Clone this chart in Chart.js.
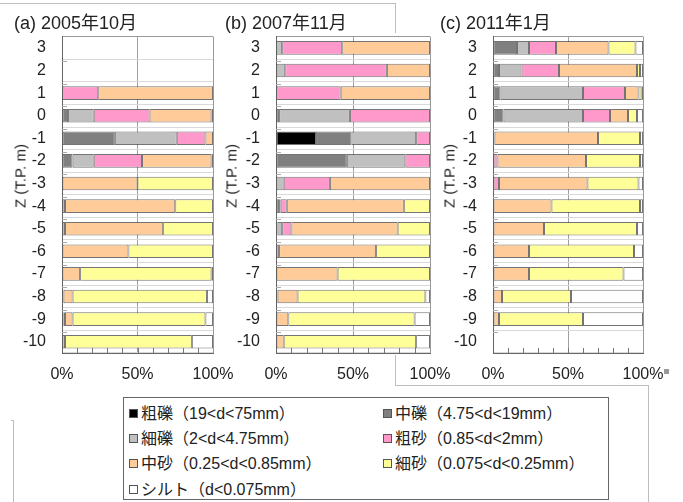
<!DOCTYPE html>
<html>
<head>
<meta charset="utf-8">
<script src="https://cdn.jsdelivr.net/npm/chart.js@4.4.1/dist/chart.umd.min.js"></script>
<style>
    body { margin: 0; background: #fff; font-family: 'Liberation Sans', 'Noto Sans CJK JP', sans-serif; }
    .wrap { position: relative; width: 683px; height: 502px; overflow: hidden; }
    .panel { position: absolute; top: 0; height: 392px; }
    .line { position: absolute; background: #bdbdbd; }
    .ztitle { position: absolute; font-size: 15px; color: #222; white-space: nowrap; transform: translate(-50%, -50%) rotate(-90deg); }
    .legend { position: absolute; left: 123px; top: 397px; width: 486px; height: 103px; border: 1px solid #666; box-sizing: border-box; }
    .item { position: absolute; font-size: 16px; color: #222; white-space: nowrap; transform: translateY(-50%); font-family: 'Liberation Sans', 'Noto Sans CJK JP', sans-serif; }
    .item span.box { display: inline-block; width: 7px; height: 7px; border: 1px solid #555; margin-right: 3px; vertical-align: 1px; }
</style>
</head>
<body>
<div class="wrap">
    <div class="line" style="left:0;top:3px;width:395px;height:1px"></div>
    <div class="line" style="left:395px;top:3px;width:1px;height:30px"></div>
    <div class="line" style="left:395px;top:355px;width:1px;height:30px"></div>
    <div class="line" style="left:395px;top:385px;width:253px;height:1px"></div>
    <div class="line" style="left:648px;top:385px;width:1px;height:117px"></div>
    <div class="line" style="left:13px;top:420px;width:1px;height:82px"></div>
    <div class="line" style="left:11px;top:420px;width:3px;height:1px"></div>
    <div class="line" style="left:664px;top:369px;width:5px;height:5px;background:#999"></div>

    <div class="panel" style="left:14px;width:233px"><canvas id="chartA"></canvas></div>
    <div class="panel" style="left:225px;width:239px"><canvas id="chartB"></canvas></div>
    <div class="panel" style="left:440px;width:237px"><canvas id="chartC"></canvas></div>

    <div class="ztitle" style="left:20px;top:176px">Z (T.P. m)</div>
    <div class="ztitle" style="left:231px;top:176px">Z (T.P. m)</div>
    <div class="ztitle" style="left:449px;top:176px">Z (T.P. m)</div>

    <div class="legend" id="legend"></div>
</div>

<script>
// depth rows (T.P. m)
const depths = ['3', '2', '1', '0', '-1', '-2', '-3', '-4', '-5', '-6', '-7', '-8', '-9', '-10'];

const classNames = [
    '粗礫（19<d<75mm）',
    '中礫（4.75<d<19mm）',
    '細礫（2<d<4.75mm）',
    '粗砂（0.85<d<2mm）',
    '中砂（0.25<d<0.85mm）',
    '細砂（0.075<d<0.25mm）',
    'シルト（d<0.075mm）'
];
const classColors = ['#000000', '#808080', '#c0c0c0', '#ff99cc', '#ffcc99', '#ffff99', '#ffffff'];

// (a) 2005年10月
const aGravelCoarse = [0, 0, 0, 0, 0, 0, 0, 0, 0, 0, 0, 0, 0, 0];
const aGravelMedium = [0, 0, 0, 4, 35, 7, 0, 0, 0, 0, 0, 0, 1, 0];
const aGravelFine   = [0, 0, 0, 17, 41, 14, 0, 0, 0, 0, 0, 0, 0, 0];
const aSandCoarse   = [0, 0, 24, 37, 19, 32, 0, 2, 2, 0, 0, 1, 1, 0];
const aSandMedium   = [0, 0, 76, 41, 5, 46, 50, 73, 65, 44, 12, 6, 5, 2];
const aSandFine     = [0, 0, 0, 0, 0, 1, 50, 25, 33, 56, 87, 89, 88, 84];
const aSilt         = [0, 0, 0, 1, 0, 0, 0, 0, 0, 0, 1, 4, 5, 14];

// (b) 2007年11月
const bGravelCoarse = [0, 0, 0, 0, 26, 0, 0, 0, 0, 0, 0, 0, 0, 0];
const bGravelMedium = [0, 0, 0, 2, 23, 46, 0, 2, 1, 0, 0, 0, 0, 0];
const bGravelFine   = [4, 6, 0, 46, 42, 38, 5, 1, 3, 0, 0, 0, 0, 0];
const bSandCoarse   = [39, 66, 42, 52, 9, 16, 30, 4, 6, 2, 0, 1, 0, 0];
const bSandMedium   = [57, 28, 58, 0, 0, 0, 65, 76, 69, 63, 40, 13, 8, 5];
const bSandFine     = [0, 0, 0, 0, 0, 0, 0, 17, 21, 35, 60, 83, 82, 86];
const bSilt         = [0, 0, 0, 0, 0, 0, 0, 0, 0, 0, 0, 3, 10, 9];

// (c) 2011年1月
const cGravelCoarse = [0, 0, 0, 0, 0, 0, 0, 0, 0, 0, 0, 0, 0, 0];
const cGravelMedium = [16, 4, 5, 7, 0, 0, 0, 0, 0, 0, 0, 0, 0, 0];
const cGravelFine   = [8, 15, 55, 53, 0, 0, 0, 0, 0, 0, 0, 0, 0, 0];
const cSandCoarse   = [18, 25, 28, 18, 1, 3, 4, 0, 0, 0, 0, 0, 0, 0];
const cSandMedium   = [35, 52, 9, 12, 69, 59, 59, 39, 34, 24, 24, 6, 4, 0];
const cSandFine     = [18, 2, 2, 6, 28, 36, 34, 59, 62, 70, 63, 46, 56, 0];
const cSilt         = [5, 2, 1, 4, 2, 2, 3, 2, 4, 6, 13, 48, 40, 0];

const xTickLabels = ['0%', '50%', '100%'];

const fontFamily = "'Liberation Sans', 'Noto Sans CJK JP', sans-serif";

// small tick marks drawn inside the plot, like the original
const innerTicks = {
    id: 'innerTicks',
    afterDatasetsDraw(chart) {
        const ctx = chart.ctx;
        const area = chart.chartArea;
        const x = chart.scales.x;
        const y = chart.scales.y;
        ctx.save();
        ctx.strokeStyle = '#777';
        ctx.lineWidth = 1;
        for (let v = 10; v < 100; v += 10) {
            const px = Math.round(x.getPixelForValue(v)) + 0.5;
            ctx.beginPath();
            ctx.moveTo(px, area.bottom);
            ctx.lineTo(px, area.bottom - 5);
            ctx.stroke();
        }
        ctx.strokeStyle = '#aaa';
        for (let i = 0; i < depths.length - 1; i++) {
            const py = Math.round((y.getPixelForValue(i) + y.getPixelForValue(i + 1)) / 2) + 2.5;
            ctx.beginPath();
            ctx.moveTo(area.left, py);
            ctx.lineTo(area.left + 5, py);
            ctx.stroke();
        }
        ctx.restore();
    }
};

function makeChart(id, title, yWidth, series) {
    const ctx = document.getElementById(id).getContext('2d');
    return new Chart(ctx, {
        type: 'bar',
        data: {
            labels: depths,
            datasets: series.map(function(values, i) {
                return {
                    label: classNames[i],
                    data: values,
                    backgroundColor: classColors[i],
                    borderColor: 'rgba(70, 70, 70, 0.75)',
                    borderWidth: 1,
                    borderSkipped: false,
                    categoryPercentage: 1,
                    barPercentage: 0.6
                };
            })
        },
        options: {
            indexAxis: 'y',
            responsive: true,
            maintainAspectRatio: false,
            animation: false,
            // right padding covers the half "100%" label plus tick padding
            layout: { padding: { left: 0, right: 34, top: 0, bottom: 0 } },
            plugins: {
                legend: { display: false },
                tooltip: { enabled: false },
                title: {
                    display: true,
                    text: title,
                    align: 'start',
                    color: '#222',
                    font: { family: fontFamily, size: 18, weight: 'normal' },
                    padding: { top: 13, bottom: 2 }
                }
            },
            scales: {
                x: {
                    stacked: true,
                    min: 0,
                    max: 100,
                    afterFit: function(s) { s.height = 39; },
                    border: { display: true, color: '#666' },
                    grid: {
                        drawTicks: false,
                        color: function(c) {
                            if (c.tick.value === 50) return '#a0a0a0';
                            if (c.tick.value === 100) return '#999';
                            return 'rgba(0,0,0,0)';
                        }
                    },
                    ticks: {
                        stepSize: 50,
                        padding: 12,
                        color: '#222',
                        font: { family: fontFamily, size: 16 },
                        maxRotation: 0,
                        callback: function(v, i) { return xTickLabels[i]; }
                    }
                },
                y: {
                    stacked: true,
                    afterFit: function(s) { s.width = yWidth; },
                    border: { display: true, color: '#666' },
                    grid: {
                        offset: true,
                        drawTicks: false,
                        color: function(c) {
                            return c.index === 0 ? '#999' : '#d9d9d9';
                        }
                    },
                    ticks: {
                        padding: 16,
                        color: '#222',
                        font: { family: fontFamily, size: 16 }
                    }
                }
            }
        },
        plugins: [innerTicks]
    });
}

makeChart('chartA', '(a) 2005年10月', 48,
    [aGravelCoarse, aGravelMedium, aGravelFine, aSandCoarse, aSandMedium, aSandFine, aSilt]);
makeChart('chartB', '(b) 2007年11月', 51,
    [bGravelCoarse, bGravelMedium, bGravelFine, bSandCoarse, bSandMedium, bSandFine, bSilt]);
makeChart('chartC', '(c) 2011年1月', 53,
    [cGravelCoarse, cGravelMedium, cGravelFine, cSandCoarse, cSandMedium, cSandFine, cSilt]);

// legend box, two columns
const legendPos = [[5, 14], [259, 14], [5, 39], [259, 39], [5, 64], [259, 64], [5, 90]];
const legendEl = document.getElementById('legend');
classNames.forEach(function(name, i) {
    const item = document.createElement('div');
    item.className = 'item';
    item.style.left = legendPos[i][0] + 'px';
    item.style.top = legendPos[i][1] + 'px';
    item.innerHTML = '<span class="box" style="background:' + classColors[i] + '"></span>';
    item.appendChild(document.createTextNode(name));
    legendEl.appendChild(item);
});
</script>
</body>
</html>
